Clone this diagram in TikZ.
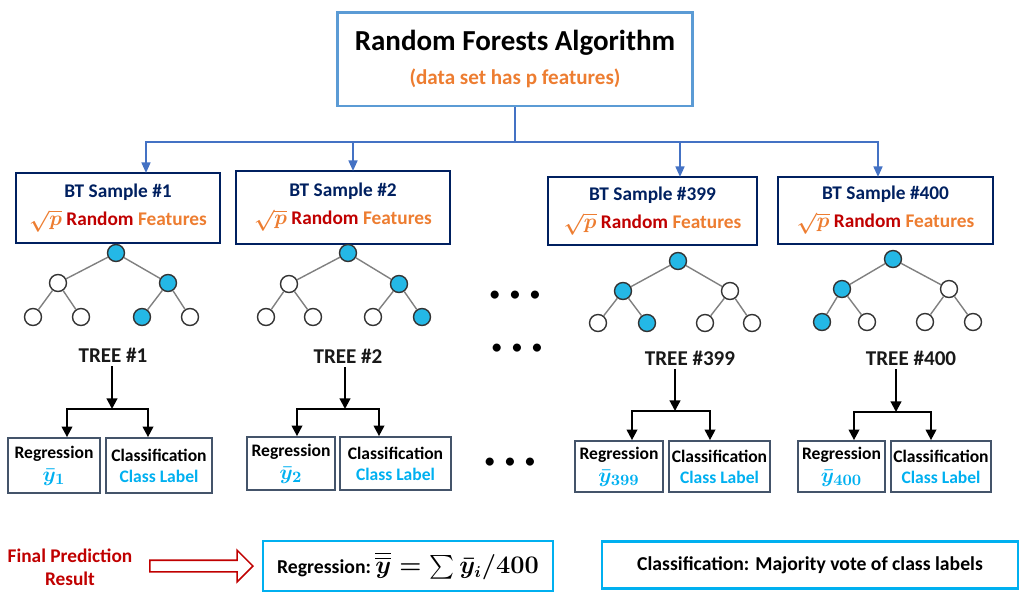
\documentclass[tikz,border=0pt]{standalone}
\usepackage{amsmath,amssymb,bm}
\usepackage{fontspec}
\setmainfont{Carlito}
\usepackage{xcolor}
\usepackage{tikz}
\usetikzlibrary{arrows.meta,shapes.arrows}

\definecolor{topblue}{HTML}{5B9BD5}
\definecolor{linkblue}{HTML}{4472C4}
\definecolor{navy}{HTML}{002060}
\definecolor{featorange}{HTML}{ED7D31}
\definecolor{darkred}{HTML}{C00000}
\definecolor{labelcyan}{HTML}{00B0F0}
\definecolor{leafblue}{RGB}{36,184,230}
\definecolor{slate}{HTML}{44546A}

\begin{document}
\begin{tikzpicture}[x=0.02cm, y=-0.02cm, inner sep=2pt,
  topbox/.style={draw=topblue, line width=1.7pt, align=center, minimum width=7.12cm, minimum height=1.88cm},
  btbox/.style={draw=navy, line width=1.2pt, align=center, text=navy, font=\bfseries\fontsize{11}{13}\selectfont},
  leaf/.style={circle, draw=black!80, line width=0.8pt, minimum size=0.34cm, inner sep=0pt, fill=white},
  hit/.style={leaf, fill=leafblue},
  twig/.style={draw=gray, line width=0.8pt},
  treelabel/.style={font=\bfseries\fontsize{12}{14}\selectfont, text=black!90},
  outbox/.style={draw=slate, line width=1pt, align=center, inner sep=0pt, font=\bfseries\fontsize{10}{12}\selectfont},
  resultbox/.style={draw=labelcyan, line width=1.2pt, inner sep=0pt, font=\bfseries\fontsize{11.2}{13}\selectfont},
  feed/.style={-{Triangle[length=6pt, width=5pt]}, linkblue, line width=1.2pt},
  pick/.style={-{Triangle[length=6pt, width=6pt]}, black, line width=1.2pt},
  dots/.style={font=\fontsize{13}{15}\selectfont}]

\useasboundingbox (0,0) rectangle (1030,609);

% header
\node[topbox] (algo) at (515,59)
  {{\bfseries\fontsize{16.5}{19}\selectfont Random Forests Algorithm}\\[7pt]
   {\bfseries\fontsize{12}{14}\selectfont\color{featorange}(data set has p features)}};

\coordinate (hub) at (515,142);
\coordinate (a1) at (146,173);
\coordinate (a2) at (353,171);
\coordinate (a399) at (680,177);
\coordinate (a400) at (878,177);

% bootstrap samples
\node[btbox, minimum width=4.08cm, minimum height=1.4cm] (bt1) at (118,208)
  {BT Sample \#1\\[3pt]{\color{featorange}\fontsize{13}{13}\selectfont\boldmath$\sqrt{p}$} {\color{darkred}Random} {\color{featorange}Features}};
\node[btbox, minimum width=4.28cm, minimum height=1.46cm] (bt2) at (343,207.5)
  {BT Sample \#2\\[3pt]{\color{featorange}\fontsize{13}{13}\selectfont\boldmath$\sqrt{p}$} {\color{darkred}Random} {\color{featorange}Features}};
\node[btbox, minimum width=4.18cm, minimum height=1.36cm] (bt399) at (652.5,211)
  {BT Sample \#399\\[3pt]{\color{featorange}\fontsize{13}{13}\selectfont\boldmath$\sqrt{p}$} {\color{darkred}Random} {\color{featorange}Features}};
\node[btbox, minimum width=4.30cm, minimum height=1.34cm] (bt400) at (885.5,210.5)
  {BT Sample \#400\\[3pt]{\color{featorange}\fontsize{13}{13}\selectfont\boldmath$\sqrt{p}$} {\color{darkred}Random} {\color{featorange}Features}};

\draw[linkblue, line width=1.2pt] (algo.south) -- (hub);
\draw[feed] (hub) -| (a1);
\draw[feed] (hub) -| (a2);
\draw[feed] (hub) -| (a399);
\draw[feed] (hub) -| (a400);

% tree 1
\node[hit] (t1r) at (116,253) {};
\node[leaf] (t1a) at (58,283) {};
\node[hit] (t1b) at (168,283) {};
\node[leaf] (t1c) at (33,317) {};
\node[leaf] (t1d) at (81,317) {};
\node[hit] (t1e) at (142,317) {};
\node[leaf] (t1f) at (190,317) {};
% tree 2
\node[hit] (t2r) at (348,253) {};
\node[leaf] (t2a) at (289,284) {};
\node[hit] (t2b) at (399,284) {};
\node[leaf] (t2c) at (266,317) {};
\node[leaf] (t2d) at (313,317) {};
\node[leaf] (t2e) at (373,317) {};
\node[hit] (t2f) at (422,317) {};
% tree 399
\node[hit] (t3r) at (678,261) {};
\node[hit] (t3a) at (623,291) {};
\node[leaf] (t3b) at (730,291) {};
\node[leaf] (t3c) at (598,323) {};
\node[hit] (t3d) at (647,323) {};
\node[leaf] (t3e) at (705,323) {};
\node[leaf] (t3f) at (752,323) {};
% tree 400
\node[hit] (t4r) at (893,259) {};
\node[hit] (t4a) at (842,289) {};
\node[leaf] (t4b) at (949,289) {};
\node[hit] (t4c) at (822,322) {};
\node[leaf] (t4d) at (867,322) {};
\node[leaf] (t4e) at (925,322) {};
\node[leaf] (t4f) at (973,322) {};

\path[twig]
(t1r) edge (t1a) (t1r) edge (t1b)
(t1a) edge (t1c) (t1a) edge (t1d)
(t1b) edge (t1e) (t1b) edge (t1f)
(t2r) edge (t2a) (t2r) edge (t2b)
(t2a) edge (t2c) (t2a) edge (t2d)
(t2b) edge (t2e) (t2b) edge (t2f)
(t3r) edge (t3a) (t3r) edge (t3b)
(t3a) edge (t3c) (t3a) edge (t3d)
(t3b) edge (t3e) (t3b) edge (t3f)
(t4r) edge (t4a) (t4r) edge (t4b)
(t4a) edge (t4c) (t4a) edge (t4d)
(t4b) edge (t4e) (t4b) edge (t4f);

\node[treelabel] (tree1) at (113,355) {TREE \#1};
\node[treelabel] (tree2) at (348,356) {TREE \#2};
\node[treelabel] (tree399) at (690,358) {TREE \#399};
\node[treelabel] (tree400) at (911,358) {TREE \#400};

\node[dots] (gap1) at (515,296) {\textbullet\hspace{5pt}\textbullet\hspace{5pt}\textbullet};
\node[dots] (gap2) at (517,349) {\textbullet\hspace{5pt}\textbullet\hspace{5pt}\textbullet};
\node[dots] (gap3) at (510,463) {\textbullet\hspace{5pt}\textbullet\hspace{5pt}\textbullet};

% per-tree outputs
\node[outbox, minimum width=1.84cm, minimum height=1.10cm] (reg1) at (54,465.5)
  {Regression\\[1pt]{\color{labelcyan}\fontsize{13}{13}\selectfont\boldmath$\bar{y}_{1}$}};
\node[outbox, minimum width=2.12cm, minimum height=1.10cm] (cls1) at (159,465.5)
  {Classification\\[0pt]{\color{labelcyan}Class Label}};
\node[outbox, minimum width=1.76cm, minimum height=1.06cm] (reg2) at (291,463.5)
  {Regression\\[1pt]{\color{labelcyan}\fontsize{13}{13}\selectfont\boldmath$\bar{y}_{2}$}};
\node[outbox, minimum width=2.22cm, minimum height=1.06cm] (cls2) at (395.5,463.5)
  {Classification\\[0pt]{\color{labelcyan}Class Label}};
\node[outbox, minimum width=1.76cm, minimum height=1.02cm] (reg399) at (619,466.5)
  {Regression\\[1pt]{\color{labelcyan}\fontsize{13}{13}\selectfont\boldmath$\bar{y}_{399}$}};
\node[outbox, minimum width=2.02cm, minimum height=1.02cm] (cls399) at (719.5,466.5)
  {Classification\\[0pt]{\color{labelcyan}Class Label}};
\node[outbox, minimum width=1.74cm, minimum height=1.02cm] (reg400) at (841.5,466.5)
  {Regression\\[1pt]{\color{labelcyan}\fontsize{13}{13}\selectfont\boldmath$\bar{y}_{400}$}};
\node[outbox, minimum width=2.00cm, minimum height=1.02cm] (cls400) at (941,466.5)
  {Classification\\[0pt]{\color{labelcyan}Class Label}};

\coordinate (j1) at (112,409);
\coordinate (j2) at (345,409);
\coordinate (j399) at (675,411);
\coordinate (j400) at (896,412);

\draw[pick] (j1 |- tree1.south) -- (j1);
\draw[pick] (j1) -| (reg1.north -| 67,0);
\draw[pick] (j1) -| (cls1.north -| 148,0);
\draw[pick] (j2 |- tree2.south) -- (j2);
\draw[pick] (j2) -| (reg2.north -| 297,0);
\draw[pick] (j2) -| (cls2.north -| 379,0);
\draw[pick] (j399 |- tree399.south) -- (j399);
\draw[pick] (j399) -| (reg399.north -| 632,0);
\draw[pick] (j399) -| (cls399.north -| 710,0);
\draw[pick] (j400 |- tree400.south) -- (j400);
\draw[pick] (j400) -| (reg400.north -| 854,0);
\draw[pick] (j400) -| (cls400.north -| 931,0);

% final result
\node[align=center, text=darkred, font=\bfseries\fontsize{11}{13}\selectfont] (final) at (70,567)
  {Final Prediction\\Result};
\node[single arrow, draw=darkred, line width=0.9pt, minimum height=2.06cm, minimum width=0.6cm,
  inner sep=0.1cm, single arrow head extend=0.2cm] (push) at (198.5,566) {};
\node[resultbox, minimum width=5.8cm, minimum height=1.0cm] (regall) at (408,566)
  {Regression:\ {\fontsize{13.5}{14}\selectfont\boldmath$\overline{\overline{y}} = \sum \bar{y}_i/400$}};
\node[resultbox, minimum width=8.32cm, minimum height=0.94cm] (clsall) at (810,565)
  {Classification: Majority vote of class labels};
\end{tikzpicture}
\end{document}
